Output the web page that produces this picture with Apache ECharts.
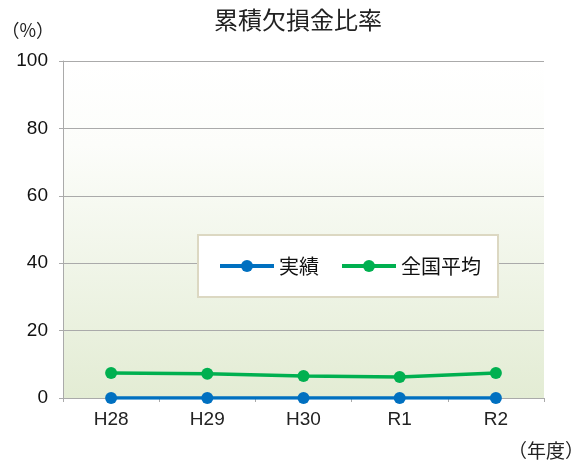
<!DOCTYPE html>
<html><head><meta charset="utf-8">
<script src="https://cdn.jsdelivr.net/npm/echarts@6/dist/echarts.min.js"></script>
<style>html,body{margin:0;padding:0;background:#fff;}#c{width:576px;height:465px;}</style>
</head><body><div id="c"></div>
<script>
const categories = ['H28','H29','H30','R1','R2'];
const actual = [0, 0, 0, 0, 0];
const national = [7.4, 7.2, 6.5, 6.2, 7.4];
const yTicks = [0, 20, 40, 60, 80, 100];
const FONT = '"Noto Sans CJK JP","Noto Sans",sans-serif';
const LATIN = '"Liberation Sans",Arial,sans-serif';
const chart = echarts.init(document.getElementById('c'));
chart.setOption({
  animation: false,
  textStyle: {fontFamily: FONT},
  title: {text: '累積欠損金比率', left: 209, top: 3,
    textStyle: {fontSize: 24, fontWeight: 'normal', color: '#222', fontFamily: FONT}},
  grid: {left: 63, right: 32, top: 61, bottom: 67, show: true, borderWidth: 0,
    containLabel: false, outerBoundsMode: 'none',
    backgroundColor: new echarts.graphic.LinearGradient(0,0,0,1,[{offset:0,color:'#ffffff'},{offset:0.25,color:'#fcfdfa'},{offset:1,color:'#e3ecd4'}])},
  legend: {
    data: ['実績','全国平均'], left: 198, top: 235,
    padding: [21, 17, 21, 20], itemGap: 21,
    backgroundColor: '#ffffff', borderColor: '#dcd8c2', borderWidth: 2,
    itemWidth: 54, itemHeight: 15,
    lineStyle: {width: 4},
    textStyle: {fontSize: 20, color: '#111', fontFamily: FONT}
  },
  xAxis: {
    type: 'category', data: categories, boundaryGap: true,
    axisLine: {lineStyle: {color: '#aaaaaa', width: 1}},
    axisTick: {show: true, length: 4, lineStyle: {color: '#aaaaaa'}},
    axisLabel: {fontSize: 19, color: '#222', margin: 12, fontFamily: LATIN},
    name: '（年度）', nameLocation: 'end', nameGap: 0,
    nameTextStyle: {fontSize: 19, color: '#222', align: 'right', verticalAlign: 'top', padding: [43, -40, 0, 0]}
  },
  yAxis: {
    type: 'value', min: 0, max: 100, interval: 20,
    axisLine: {show: true, lineStyle: {color: '#aaaaaa'}},
    axisTick: {show: true, length: 4, lineStyle: {color: '#aaaaaa'}},
    splitLine: {lineStyle: {color: '#aaaaaa', width: 1}},
    axisLabel: {fontSize: 19, color: '#111', margin: 15, fontFamily: LATIN,
      formatter: v => yTicks.includes(v) ? String(v) : ''},
    name: '（%）', nameLocation: 'end', nameGap: 22,
    nameTextStyle: {fontSize: 18, color: '#222', align: 'right', padding: [0, 9, 0, 0]}
  },
  series: [
    {name: '全国平均', type: 'line', data: national, symbol: 'circle', symbolSize: 12,
      lineStyle: {color: '#00b050', width: 3.5}, itemStyle: {color: '#00b050'}, z: 3},
    {name: '実績', type: 'line', data: actual, symbol: 'circle', symbolSize: 12,
      lineStyle: {color: '#0070c0', width: 3.5}, itemStyle: {color: '#0070c0'}, z: 4}
  ]
});
</script></body></html>
